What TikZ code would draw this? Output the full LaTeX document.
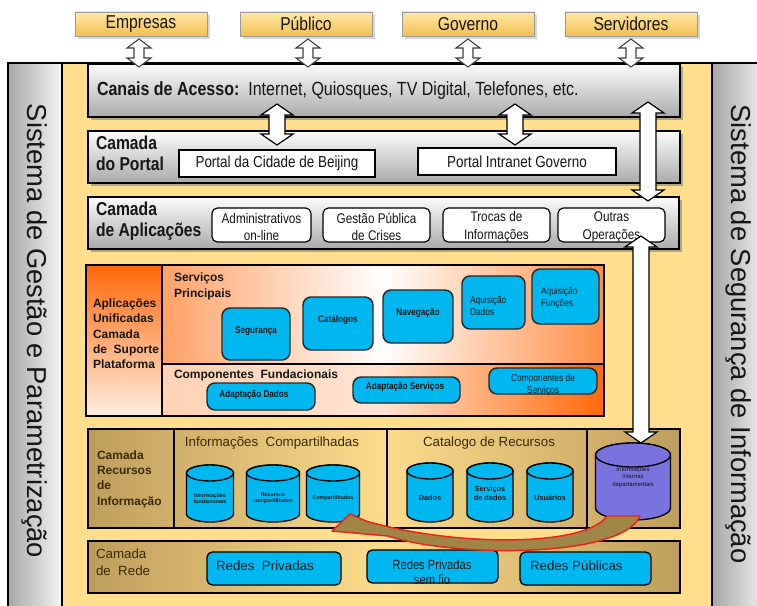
\documentclass[tikz,border=0pt]{standalone}
\usepackage{fontspec}
\setmainfont{Liberation Sans}
\newfontfamily\narrowfont[FakeStretch=0.84]{Liberation Sans}
\usetikzlibrary{fit,shadows}

\definecolor{paper}{RGB}{255,222,142}
\definecolor{boxtop}{RGB}{255,234,165}
\definecolor{boxbot}{RGB}{242,190,84}
\definecolor{layertop}{RGB}{252,252,252}
\definecolor{layerbot}{RGB}{170,170,170}
\definecolor{orng}{RGB}{255,104,8}
\definecolor{peach}{RGB}{255,238,225}
\definecolor{cyanbox}{RGB}{0,184,240}
\definecolor{violetdrum}{RGB}{122,114,222}
\definecolor{goldlight}{RGB}{252,220,140}
\definecolor{golddark}{RGB}{190,158,92}
\definecolor{arrowfill}{RGB}{160,134,70}
\definecolor{arrowrim}{RGB}{232,36,28}
\definecolor{ink}{RGB}{22,22,22}
\definecolor{brownink}{RGB}{58,40,8}
\definecolor{panelgray}{RGB}{168,168,168}

% vertical double block arrow: centre x, top y, bottom y, half shaft, half head, head length, style
\newcommand\dblarr[7]{%
  \draw[#7] ({#1-#4},{#2+#6}) -- ({#1-#5},{#2+#6}) -- (#1,#2) -- ({#1+#5},{#2+#6})
    -- ({#1+#4},{#2+#6}) -- ({#1+#4},{#3-#6}) -- ({#1+#5},{#3-#6}) -- (#1,#3)
    -- ({#1-#5},{#3-#6}) -- ({#1-#4},{#3-#6}) -- cycle;}

% storage drum: name, centre x, top y, bottom y, half width, rim radius, fill
\newcommand\drum[7]{%
  \draw[drumline, fill=#7] ({#2-#5},{#3+#6}) -- ({#2-#5},{#4-#6})
    arc[start angle=180, end angle=0, x radius=#5, y radius=#6]
    -- ({#2+#5},{#3+#6})
    arc[start angle=0, end angle=-180, x radius=#5, y radius=#6] -- cycle;
  \draw[drumline, fill=#7] (#2,{#3+#6}) ellipse[x radius=#5, y radius=#6];
  \coordinate (#1) at (#2,{(#3+#4)/2+5});}

\begin{document}
\begin{tikzpicture}[x=0.75pt, y=-0.75pt,
  every node/.style={inner sep=0pt, outer sep=0pt, text=ink},
  topbox/.style={draw=black!40, line width=0.6pt, top color=boxtop, bottom color=boxbot,
    drop shadow={shadow xshift=2pt, shadow yshift=-2pt, opacity=0.3}},
  toptext/.style={font=\narrowfont\fontsize{14}{16}\selectfont},
  layerbox/.style={draw=black, line width=0.9pt, top color=layertop, bottom color=layerbot,
    drop shadow={shadow xshift=2.5pt, shadow yshift=-2.5pt, opacity=0.6}},
  layerlabel/.style={anchor=west, align=left, font=\narrowfont\bfseries\fontsize{14}{15.5}\selectfont},
  portalbox/.style={draw=black, line width=0.9pt, fill=white},
  portaltext/.style={font=\narrowfont\fontsize{12}{14}\selectfont},
  appbox/.style={draw=black, line width=0.9pt, fill=white, rounded corners=4pt},
  apptext/.style={align=center, font=\narrowfont\fontsize{10.5}{13}\selectfont},
  svcbox/.style={draw=black!85, line width=1.1pt, fill=cyanbox, rounded corners=6pt},
  svcbold/.style={align=center, font=\narrowfont\bfseries\fontsize{7.3}{8.5}\selectfont},
  svcthin/.style={align=left, font=\narrowfont\fontsize{7.5}{9}\selectfont},
  platlabel/.style={anchor=west, align=left, font=\bfseries\fontsize{9}{11.5}\selectfont},
  goldband/.style={draw=black, line width=0.9pt, left color=golddark, right color=golddark,
    middle color=goldlight},
  goldtitle/.style={font=\fontsize{10}{12}\selectfont, text=brownink},
  goldlabel/.style={anchor=west, align=left, font=\bfseries\fontsize{9}{11.5}\selectfont, text=brownink},
  drumline/.style={draw=black, line width=1pt},
  drumtext/.style={align=center, font=\bfseries\fontsize{4}{4.6}\selectfont},
  netbox/.style={draw=black, line width=1pt, fill=cyanbox, rounded corners=4pt},
  nettext/.style={align=center, font=\fontsize{10}{11.5}\selectfont},
  hollow/.style={draw=black, line width=0.9pt, fill=white},
  hollowsmall/.style={draw=black!75, line width=0.8pt, fill=white},
  sidetext/.style={rotate=-90, font=\fontsize{20.5}{24}\selectfont}]

\useasboundingbox (0,0) rectangle (757,606);
\clip (0,0) rectangle (757,606);
\fill[white] (0,0) rectangle (757,606);

% outer frame and the two side systems
\node[draw=black, line width=0.9pt, fill=paper, fit={(8,63) (770,620)}] (frame) {};
\node[draw=black, line width=0.9pt, left color=panelgray, right color=white!96!black,
  fit={(8,63) (62,620)}] (leftpanel) {};
\node[draw=black, line width=0.9pt, left color=panelgray, right color=white!96!black,
  fit={(712,63) (770,620)}] (rightpanel) {};
\node[sidetext] (leftsys) at (35,331) {Sistema de Gestão e Parametrização};
\node[sidetext] (rightsys) at (738,334) {Sistema de Segurança de Informação};

% user groups
\node[topbox, fit={(75,12) (207,36)}] (emp) {};
\node[topbox, fit={(240,12) (372,36)}] (pub) {};
\node[topbox, fit={(402,12) (534,36)}] (gov) {};
\node[topbox, fit={(565,12) (697,36)}] (srv) {};
\node[toptext] at (emp.center) {Empresas};
\node[toptext] at (pub.center) {Público};
\node[toptext] at (gov.center) {Governo};
\node[toptext] at (srv.center) {Servidores};

% access, portal and application layers
\node[layerbox, fit={(88,64) (680,117)}] (canais) {};
\node[layerbox, fit={(88,131) (680,183)}] (portal) {};
\node[layerbox, fit={(88,197) (679,249)}] (apl) {};

\dblarr{139}{39}{67}{5}{12}{9}{hollowsmall}
\dblarr{308}{39}{67}{5}{12}{9}{hollowsmall}
\dblarr{468}{39}{67}{5}{12}{9}{hollowsmall}
\dblarr{631}{39}{67}{5}{12}{9}{hollowsmall}

\node[anchor=west, font=\narrowfont\fontsize{14.3}{16}\selectfont] (canaistext) at (97,91)
  {\textbf{Canais de Acesso:}\ \ Internet, Quiosques, TV Digital, Telefones, etc.};

\node[layerlabel] (portaltext) at (96,153) {Camada\\do Portal};
\node[portalbox, fit={(179,150) (375,177)}] (beijing) {};
\node[portalbox, fit={(418,148) (616,175)}] (intranet) {};
\node[portaltext] at (beijing.center) {Portal da Cidade  de Beijing};
\node[portaltext] at (intranet.center) {Portal Intranet Governo};

\node[layerlabel] (apltext) at (96,221) {Camada\\de Aplicações};
\node[appbox, fit={(212,208) (311,242)}] (adm) {};
\node[appbox, fit={(323,208) (430,242)}] (crises) {};
\node[appbox, fit={(443,208) (550,242)}] (trocas) {};
\node[appbox, fit={(558,208) (665,242)}] (outras) {};
\node[apptext] at ([yshift=-1.5pt]adm.center) {Administrativos\\on-line};
\node[apptext] at ([yshift=-1.5pt]crises.center) {Gestão Pública\\de Crises};
\node[apptext] at ([yshift=-1.5pt]trocas.center) {Trocas de\\Informações};
\node[apptext] at ([yshift=-1.5pt]outras.center) {Outras\\Operações};

% unified platform support layer
\node[draw=black, line width=0.9pt, top color=orng, bottom color=peach,
  fit={(86,265) (162,416)}] (platleft) {};
\node[draw=black, line width=0.9pt, left color=orng!62!white, right color=orng!75!white,
  middle color=white, fit={(162,265) (604,364)}] (core) {};
\node[draw=black, line width=0.9pt, left color=orng!30!white, right color=orng,
  middle color=white!82!orng, fit={(162,364) (604,416)}] (found) {};
\node[platlabel] (plattext) at (93,334)
  {Aplicações\\Unificadas\\Camada\\de \ Suporte\\Plataforma};
\node[platlabel, anchor=north west] (coretext) at (174,273) {Serviços\\Principais};
\node[platlabel] (foundtext) at (174,375) {Componentes \ Fundacionais};

\node[svcbox, fit={(222,308) (290,360)}] (seg) {};
\node[svcbox, fit={(303,297) (373,350)}] (cat) {};
\node[svcbox, fit={(383,290) (453,343)}] (nav) {};
\node[svcbox, fit={(462,276) (525,329)}] (aqd) {};
\node[svcbox, fit={(532,269) (599,324)}] (aqf) {};
\node[svcbox, fit={(207,383) (315,410)}] (adpd) {};
\node[svcbox, fit={(353,377) (460,403)}] (adps) {};
\node[svcbox, fit={(489,368) (597,394)}] (comps) {};
\node[svcbold] at (256,331) {Segurança};
\node[svcbold] at (338,320) {Catálogos};
\node[svcbold] at (418,313) {Navegação};
\node[svcthin, anchor=west] at (470,306) {Aquisição\\Dados};
\node[svcthin, anchor=west] at (541,298) {Aquisição\\Funções};
\node[svcbold] at (254,395) {Adaptação Dados};
\node[svcbold] at (405,387) {Adaptação Serviços};
\node[svcthin, align=center] at (543,385) {Componentes de\\Serviços};

% information resources layer
\node[goldband, fit={(88,429) (680,528)}] (recursos) {};
\draw[black, line width=0.9pt] (174,429) -- (174,528) (387,429) -- (387,528) (587,429) -- (587,528);
\node[goldlabel] (rectext) at (97,479) {Camada\\Recursos\\de\\Informação};
\node[goldtitle] (sharedtitle) at (272,443) {Informações \ Compartilhadas};
\node[goldtitle] (catalogtitle) at (489,443) {Catalogo de Recursos};

\drum{d1}{210}{465}{522}{23.5}{8}{cyanbox}
\drum{d2}{273}{465}{522}{26.5}{8}{cyanbox}
\drum{d3}{333}{465}{522}{26.5}{8}{cyanbox}
\drum{d4}{430}{463}{522}{23}{8}{cyanbox}
\drum{d5}{490}{463}{522}{23}{8}{cyanbox}
\drum{d6}{550}{463}{522}{23}{8}{cyanbox}
\drum{d7}{633}{443}{520}{37.5}{12}{violetdrum}
\node[drumtext] at (d1) {Informações\\fundacionais};
\node[drumtext] at (d2) {Recursos\\compartilhados};
\node[drumtext] at (d3) {Compartilhados};
\node[drumtext, font=\bfseries\fontsize{5.5}{6.5}\selectfont] at (d4) {Dados};
\node[drumtext, font=\bfseries\fontsize{5.5}{6.5}\selectfont] at ([yshift=3pt]d5) {Serviços\\de dados};
\node[drumtext, font=\bfseries\fontsize{5.5}{6.5}\selectfont] at (d6) {Usuários};
\node[drumtext, font=\fontsize{4.5}{5.5}\selectfont] at ([yshift=7pt]d7) {Informações\\internas\\departamentais};

% network layer
\node[goldband, fit={(88,541) (680,593)}] (rede) {};
\node[anchor=west, align=left, font=\fontsize{10}{12.5}\selectfont, text=brownink] (redetext)
  at (96,562) {Camada\\de \ Rede};
\node[netbox, fit={(207,552) (341,585)}] (rp) {};
\node[netbox, fit={(367,550) (498,583)}] (rpsf) {};
\node[netbox, fit={(520,552) (651,585)}] (rpub) {};
\node[nettext, anchor=west] at (216,566) {Redes \ Privadas};
\node[nettext, font=\narrowfont\fontsize{10}{11.5}\selectfont] at (432,572) {Redes Privadas\\sem fio};
\node[nettext, anchor=west] at (530,566) {Redes Públicas};

% exchanges between layers
\dblarr{277}{104}{145}{8}{16}{11}{hollow}
\dblarr{515}{104}{145}{8}{16}{11}{hollow}
\dblarr{648}{102}{201}{8}{16}{11}{hollow}
\dblarr{641}{236}{443}{8}{16}{11}{hollow}

% flow from departmental data back to shared information
\draw[draw=arrowrim, line width=1.1pt, fill=arrowfill, line join=round]
  (332,531) -- (350,514) -- (366,521)
  .. controls (450,546) and (585,548) .. (607,516)
  -- (640,516)
  .. controls (622,558) and (455,558) .. (388,536) -- cycle;

\end{tikzpicture}
\end{document}
